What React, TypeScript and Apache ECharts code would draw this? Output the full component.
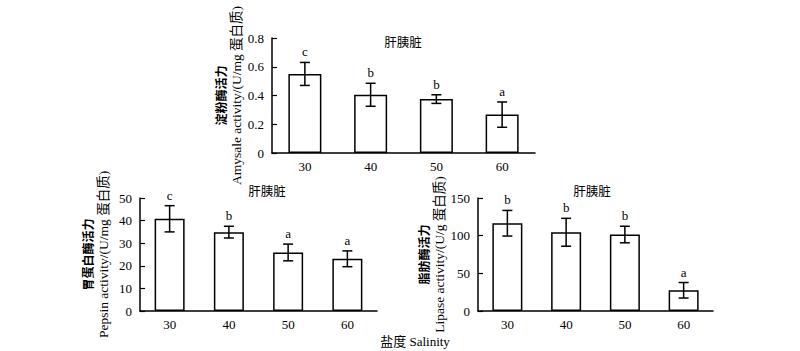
import React, { useEffect, useRef } from "react";
import * as echarts from "echarts";

const categories = ["30", "40", "50", "60"];

const amylaseMean = [0.55, 0.405, 0.375, 0.267];
const amylaseErr = [0.08, 0.08, 0.03, 0.088];
const amylaseLetters = ["c", "b", "b", "a"];

const pepsinMean = [40.8, 34.9, 25.9, 23.1];
const pepsinErr = [5.8, 2.6, 3.7, 3.5];
const pepsinLetters = ["c", "b", "a", "a"];

const lipaseMean = [116.5, 104.5, 101.5, 27.5];
const lipaseErr = [17, 18.5, 11, 10.3];
const lipaseLetters = ["b", "b", "b", "a"];

const FONT = "'Liberation Serif', 'Times New Roman', 'Noto Sans CJK SC', serif";

function errSeries(idx: number, means: number[], errs: number[], letters: string[]) {
  return {
    type: "custom",
    xAxisIndex: idx,
    yAxisIndex: idx,
    data: means.map((m, i) => [i, m, errs[i]]),
    z: 10,
    renderItem: (params: any, api: any) => {
      const x = api.value(0);
      const m = api.value(1);
      const e = api.value(2);
      const top = api.coord([x, m + e]);
      const bot = api.coord([x, m - e]);
      const hw = 5;
      const st = { stroke: "#000", lineWidth: 1.5 };
      return {
        type: "group",
        children: [
          { type: "line", shape: { x1: top[0], y1: top[1], x2: bot[0], y2: bot[1] }, style: st },
          { type: "line", shape: { x1: top[0] - hw, y1: top[1], x2: top[0] + hw, y2: top[1] }, style: st },
          { type: "line", shape: { x1: bot[0] - hw, y1: bot[1], x2: bot[0] + hw, y2: bot[1] }, style: st },
          {
            type: "text",
            style: {
              text: letters[params.dataIndex],
              x: top[0],
              y: top[1] - 4,
              textAlign: "center",
              textVerticalAlign: "bottom",
              fontSize: 13,
              fontFamily: FONT,
              fill: "#000",
            },
          },
        ],
      };
    },
  };
}

function xAxis(idx: number) {
  return {
    type: "category",
    gridIndex: idx,
    data: categories,
    axisLine: { lineStyle: { color: "#000", width: 1.5 } },
    axisTick: { show: false },
    axisLabel: { color: "#000", fontSize: 13, fontFamily: FONT, margin: 7 },
  };
}

function yAxis(idx: number, max: number, interval: number, cn: string, en: string, gap: number, fmt?: (v: number) => string) {
  return {
    type: "value",
    gridIndex: idx,
    min: 0,
    max,
    interval,
    splitLine: { show: false },
    axisLine: { show: true, lineStyle: { color: "#000", width: 1.5 } },
    axisTick: { show: true, inside: true, length: 5, lineStyle: { color: "#000", width: 1.2 } },
    axisLabel: { color: "#000", fontSize: 13, fontFamily: FONT, margin: 8, formatter: fmt },
    name: `{cn|${cn}}\n{en|${en}}`,
    nameLocation: "middle",
    nameRotate: 90,
    nameGap: gap,
    nameTextStyle: {
      rich: {
        cn: { fontSize: 12, fontWeight: "bold", fontFamily: FONT, color: "#000", lineHeight: 15 },
        en: { fontSize: 13.5, fontFamily: FONT, color: "#000", lineHeight: 15 },
      },
    },
  };
}

function barSeries(idx: number, means: number[], width: number) {
  return {
    type: "bar",
    xAxisIndex: idx,
    yAxisIndex: idx,
    data: means,
    barWidth: width,
    itemStyle: { color: "#fff", borderColor: "#000", borderWidth: 1.5 },
  };
}

export default function App() {
  const ref = useRef<HTMLDivElement>(null);
  useEffect(() => {
    if (!ref.current) return;
    const chart = echarts.init(ref.current, null, { renderer: "svg" });
    chart.setOption({
      animation: false,
      backgroundColor: "#fff",
      grid: [
        { left: 272, right: 265, top: 38, bottom: 198 },
        { left: 140, right: 423, top: 198, bottom: 40 },
        { left: 478, right: 87, top: 198, bottom: 40 },
      ],
      xAxis: [xAxis(0), xAxis(1), xAxis(2)],
      yAxis: [
        yAxis(0, 0.8, 0.2, "淀粉酶活力", "Amysale activity/(U/mg 蛋白质)", 28, (v: number) => (v === 0 ? "0" : v.toFixed(1))),
        yAxis(1, 50, 10, "胃蛋白酶活力", "Pepsin activity/(U/mg 蛋白质)", 29),
        yAxis(2, 150, 50, "脂肪酶活力", "Lipase activity/(U/g 蛋白质)", 31),
      ],
      graphic: [
        { type: "text", x: 403, y: 43, style: { text: "肝胰脏", fontSize: 12.5, fontFamily: FONT, fill: "#000", textAlign: "center", textVerticalAlign: "middle" } },
        { type: "text", x: 267, y: 192, style: { text: "肝胰脏", fontSize: 12.5, fontFamily: FONT, fill: "#000", textAlign: "center", textVerticalAlign: "middle" } },
        { type: "text", x: 592, y: 192, style: { text: "肝胰脏", fontSize: 12.5, fontFamily: FONT, fill: "#000", textAlign: "center", textVerticalAlign: "middle" } },
        { type: "text", x: 415, y: 341, style: { text: "盐度 Salinity", fontSize: 13, fontFamily: FONT, fill: "#000", textAlign: "center", textVerticalAlign: "middle" } },
      ],
      series: [
        barSeries(0, amylaseMean, 33),
        errSeries(0, amylaseMean, amylaseErr, amylaseLetters),
        barSeries(1, pepsinMean, 30),
        errSeries(1, pepsinMean, pepsinErr, pepsinLetters),
        barSeries(2, lipaseMean, 30),
        errSeries(2, lipaseMean, lipaseErr, lipaseLetters),
      ],
    });
    return () => chart.dispose();
  }, []);
  return <div ref={ref} style={{ width: 800, height: 351, position: "absolute", left: 0, top: 0 }} />;
}
